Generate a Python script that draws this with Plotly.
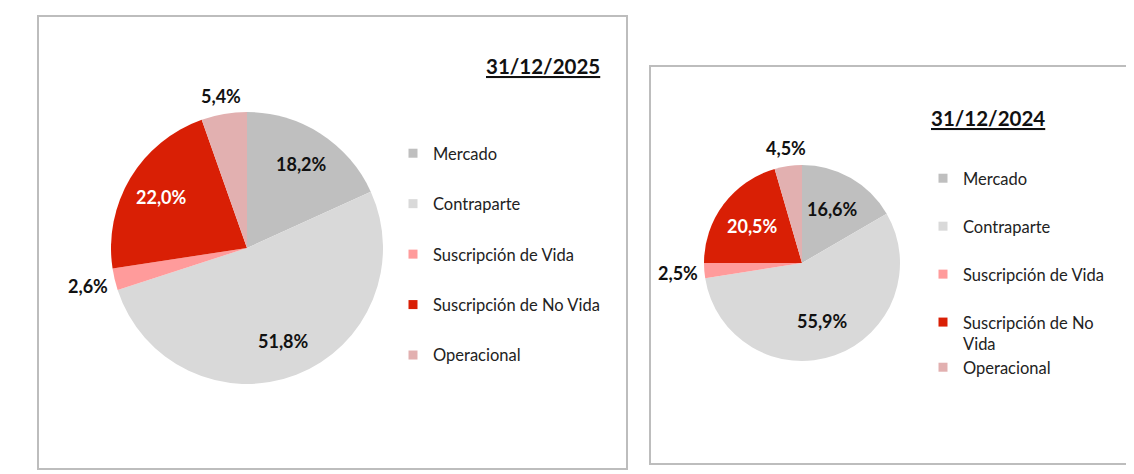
import math
import plotly.graph_objects as go

# la pagina tiene 8px de margen en el body: la figura se dibuja algo menor
OFF = 8
W, H = 1134 - OFF, 474 - OFF

categorias = ['Mercado', 'Contraparte', 'Suscripción de Vida', 'Suscripción de No Vida', 'Operacional']
valores_2025 = [18.2, 51.8, 2.6, 22.0, 5.4]
valores_2024 = [16.6, 55.9, 2.5, 20.5, 4.5]
titulo_2025 = '31/12/2025'
titulo_2024 = '31/12/2024'
# la leyenda de 2024 parte la cuarta etiqueta en dos lineas
etiquetas_leyenda_2024 = ['Mercado', 'Contraparte', 'Suscripción de Vida', 'Suscripción de No<br>Vida', 'Operacional']

colores = ['#BFBFBF', '#D9D9D9', '#FF9B9B', '#D91F05', '#E2B0B0']
etiqueta_fuera = [False, False, True, False, True]
colores_texto = ['#111111', '#111111', '#111111', '#FFFFFF', '#111111']

FONT = 'Lato'


def px_x(x):
    # posicion en pixeles de pantalla -> coordenada paper
    return (x - OFF) / W


def px_y(y):
    return 1 - (y - OFF) / H


def pie(values, cx, cy, r):
    return go.Pie(
        labels=categorias,
        values=values,
        sort=False,
        direction='clockwise',
        rotation=0,
        marker=dict(colors=colores, line=dict(width=0)),
        textinfo='none',
        hoverinfo='label+percent',
        showlegend=False,
        domain=dict(x=[px_x(cx - r), px_x(cx + r)], y=[px_y(cy + r), px_y(cy - r)]),
    )


def etiquetas(values, cx, cy, r):
    # etiquetas de datos al estilo Excel: dentro cerca del borde, o justo fuera
    total = sum(values)
    acum = 0
    notas = []
    for v, fuera, col in zip(values, etiqueta_fuera, colores_texto):
        ang = 2 * math.pi * (acum + v / 2) / total
        acum += v
        s, c = math.sin(ang), math.cos(ang)
        if fuera:
            rad = r + 6 + 20 * abs(s) + 9 * abs(c)
        else:
            rad = r - 36
        txt = f'{100 * v / total:.1f}%'.replace('.', ',')
        notas.append(dict(
            text=f'<b>{txt}</b>', x=px_x(cx + rad * s), y=px_y(cy - rad * c),
            xref='paper', yref='paper', xanchor='center', yanchor='middle', showarrow=False,
            font=dict(family=FONT, size=18, color=col),
        ))
    return notas


fig = go.Figure()
fig.add_trace(pie(valores_2025, 247, 248, 136))
fig.add_trace(pie(valores_2024, 802, 263, 98))

# entradas de leyenda (marcadores cuadrados) para poder espaciar como en Excel
for i, (cat, col) in enumerate(zip(categorias, colores)):
    fig.add_trace(go.Scatter(
        x=[None], y=[None], mode='markers', name=cat,
        marker=dict(symbol='square', size=9, color=col),
        legend='legend', legendgroup=f'a{i}', showlegend=True,
    ))
for i, (cat, col) in enumerate(zip(etiquetas_leyenda_2024, colores)):
    fig.add_trace(go.Scatter(
        x=[None], y=[None], mode='markers', name=cat,
        marker=dict(symbol='square', size=9, color=col),
        legend='legend2' if i < 4 else 'legend3', legendgroup=f'b{i}', showlegend=True,
    ))

leg_font = dict(family=FONT, size=16.5, color='#222222')
titulos = [
    dict(text=f'<b><u>{titulo_2025}</u></b>', x=px_x(543), y=px_y(66), xref='paper', yref='paper',
         xanchor='center', yanchor='middle', showarrow=False,
         font=dict(family=FONT, size=20.5, color='#111111')),
    dict(text=f'<b><u>{titulo_2024}</u></b>', x=px_x(988), y=px_y(118), xref='paper', yref='paper',
         xanchor='center', yanchor='middle', showarrow=False,
         font=dict(family=FONT, size=20.5, color='#111111')),
]

fig.update_layout(
    width=W, height=H,
    margin=dict(l=0, r=0, t=0, b=0),
    paper_bgcolor='white', plot_bgcolor='white',
    xaxis=dict(visible=False), yaxis=dict(visible=False),
    legend=dict(x=px_x(393), y=px_y(136), xanchor='left', yanchor='top',
                font=leg_font, tracegroupgap=26, bgcolor='rgba(0,0,0,0)'),
    legend2=dict(x=px_x(923), y=px_y(161), xanchor='left', yanchor='top',
                 font=leg_font, tracegroupgap=23.5, valign='top', bgcolor='rgba(0,0,0,0)'),
    legend3=dict(x=px_x(923), y=px_y(350), xanchor='left', yanchor='top',
                 font=leg_font, bgcolor='rgba(0,0,0,0)'),
    annotations=titulos + etiquetas(valores_2025, 247, 248, 136) + etiquetas(valores_2024, 802, 263, 98),
    shapes=[
        # marcos de los graficos
        dict(type='rect', xref='paper', yref='paper', x0=px_x(38), x1=px_x(627), y0=px_y(469), y1=px_y(16),
             line=dict(color='#BDBDBD', width=2)),
        dict(type='rect', xref='paper', yref='paper', x0=px_x(650), x1=px_x(1131), y0=px_y(464), y1=px_y(66),
             line=dict(color='#BDBDBD', width=2)),
    ],
)

fig.write_html('out.html')
